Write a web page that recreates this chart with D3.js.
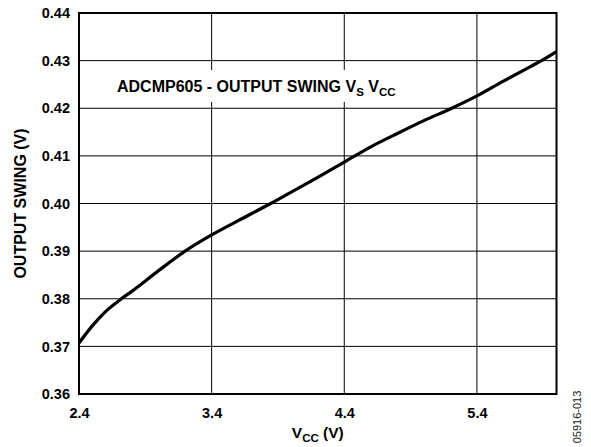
<!DOCTYPE html>
<html lang="en">
<head>
    <meta charset="UTF-8" />
    <title>ADCMP605 output swing vs VCC</title>
    <script src="https://d3js.org/d3.v7.min.js"></script>
    <style>
        body { margin: 0; background: #fff; }
        text { font-family: "Liberation Sans", Arial, sans-serif; }
    </style>
</head>
<body>
    <div id="chart"></div>

    <script>
        // data
        const vcc = [2.4, 2.5, 2.6, 2.72, 2.8, 3.0, 3.2, 3.4, 3.6, 3.845, 4.0, 4.2, 4.4, 4.6, 4.8, 5.0, 5.21, 5.4, 5.6, 5.8, 5.887, 6.0]
        const swing = [0.3707, 0.3743, 0.3773, 0.3800, 0.3816, 0.3859, 0.3900, 0.3934, 0.3964, 0.4000, 0.4024, 0.4055, 0.4087, 0.4119, 0.4147, 0.4174, 0.4200, 0.4226, 0.4257, 0.4287, 0.4300, 0.4319]
        const xTicks = [2.4, 3.4, 4.4, 5.4]
        const yTicks = [0.36, 0.37, 0.38, 0.39, 0.40, 0.41, 0.42, 0.43, 0.44]

        const width = 591
        const height = 447
        const margin = ({ top: 13, right: 34.5, bottom: 53, left: 79 })

        const data = vcc.map((v, i) => ({ x: v, y: swing[i] }))

        const x = d3.scaleLinear()
            .domain([2.4, 6.0])
            .range([margin.left, width - margin.right])

        const y = d3.scaleLinear()
            .domain([0.36, 0.44])
            .range([height - margin.bottom, margin.top])

        const svg = d3.select("#chart").append("svg")
            .attr("width", width)
            .attr("height", height)
            .attr("viewBox", [0, 0, width, height])

        // grid
        svg.append("g")
            .attr("stroke", "#000")
            .attr("stroke-width", 1)
            .call(g => g.selectAll("line.v")
                .data(xTicks)
                .join("line")
                .attr("class", "v")
                .attr("x1", d => x(d)).attr("x2", d => x(d))
                .attr("y1", margin.top).attr("y2", height - margin.bottom))
            .call(g => g.selectAll("line.h")
                .data(yTicks)
                .join("line")
                .attr("class", "h")
                .attr("x1", margin.left).attr("x2", width - margin.right)
                .attr("y1", d => y(d)).attr("y2", d => y(d)))

        // white box behind the inner title
        svg.append("rect")
            .attr("x", 110)
            .attr("y", 70)
            .attr("width", 298)
            .attr("height", 32)
            .attr("fill", "#fff")

        // axes (labels only)
        const xAxis = g => g
            .attr("transform", `translate(0,${height - margin.bottom})`)
            .call(d3.axisBottom(x).tickValues(xTicks).tickFormat(d3.format(".1f")).tickSize(0).tickPadding(14))
            .call(g => g.select(".domain").remove())
            .call(g => g.selectAll("text")
                .attr("font-family", "Liberation Sans, Arial, sans-serif")
                .attr("font-size", 14.5)
                .attr("font-weight", "bold")
                .attr("fill", "#000"))

        const yAxis = g => g
            .attr("transform", `translate(${margin.left},0)`)
            .call(d3.axisLeft(y).tickValues(yTicks).tickFormat(d3.format(".2f")).tickSize(0).tickPadding(9))
            .call(g => g.select(".domain").remove())
            .call(g => g.selectAll("text")
                .attr("font-family", "Liberation Sans, Arial, sans-serif")
                .attr("font-size", 14.5)
                .attr("font-weight", "bold")
                .attr("fill", "#000"))

        svg.append("g").call(xAxis)
        svg.append("g").call(yAxis)

        // frame
        svg.append("rect")
            .attr("x", margin.left)
            .attr("y", margin.top)
            .attr("width", width - margin.left - margin.right)
            .attr("height", height - margin.top - margin.bottom)
            .attr("fill", "none")
            .attr("stroke", "#000")
            .attr("stroke-width", 2)

        // curve
        const line = d3.line()
            .x(d => x(d.x))
            .y(d => y(d.y))
            .curve(d3.curveMonotoneX)

        svg.append("path")
            .datum(data)
            .attr("fill", "none")
            .attr("stroke", "#000")
            .attr("stroke-width", 3.2)
            .attr("stroke-linejoin", "round")
            .attr("d", line)

        // inner title
        const title = svg.append("text")
            .attr("x", 117)
            .attr("y", 92)
            .attr("font-size", 16)
            .attr("font-weight", "bold")
        title.append("tspan").text("ADCMP605 - OUTPUT SWING V")
        title.append("tspan").attr("font-size", 11.5).attr("dy", 4).text("S")
        title.append("tspan").attr("dy", -4).text(" V")
        title.append("tspan").attr("font-size", 11.5).attr("dy", 4).text("CC")

        // x title
        const xt = svg.append("text")
            .attr("x", (margin.left + width - margin.right) / 2)
            .attr("y", 438)
            .attr("text-anchor", "middle")
            .attr("font-size", 15.5)
            .attr("font-weight", "bold")
        xt.append("tspan").text("V")
        xt.append("tspan").attr("font-size", 11.5).attr("dy", 4).text("CC")
        xt.append("tspan").attr("dy", -4).text(" (V)")

        // y title
        svg.append("text")
            .attr("transform", `translate(26,${(margin.top + height - margin.bottom) / 2}) rotate(-90)`)
            .attr("text-anchor", "middle")
            .attr("font-size", 16)
            .attr("font-weight", "bold")
            .text("OUTPUT SWING (V)")

        // figure code
        svg.append("text")
            .attr("transform", "translate(581,417) rotate(-90)")
            .attr("text-anchor", "middle")
            .attr("font-size", 11)
            .attr("fill", "#222")
            .text("05916-013")
    </script>
</body>
</html>
